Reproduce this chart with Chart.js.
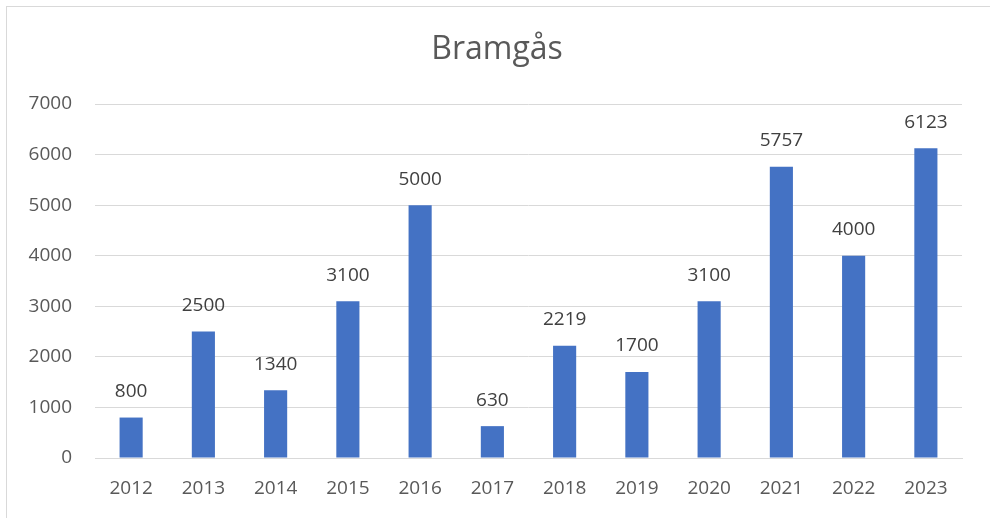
<!DOCTYPE html>
<html>
<head>
<meta charset="utf-8">
<script src="https://cdn.jsdelivr.net/npm/chart.js@4.4.0/dist/chart.umd.min.js"></script>
<style>
  html, body { margin: 0; padding: 0; background: #fff; overflow: hidden; }
  #wrap { position: relative; width: 990px; height: 518px; }
  #frame { position: absolute; left: 6px; top: 6px; width: 1000px; height: 600px; border: 1px solid #d9d9d9; }
  #myChart { position: absolute; left: 0; top: 0; }
</style>
</head>
<body>
<div id="wrap">
  <div id="frame"></div>
  <canvas id="myChart" width="990" height="518"></canvas>
</div>
<script>
var years = ['2012', '2013', '2014', '2015', '2016', '2017', '2018', '2019', '2020', '2021', '2022', '2023'];
var counts = [800, 2500, 1340, 3100, 5000, 630, 2219, 1700, 3100, 5757, 4000, 6123];
var chartTitle = 'Bramgås';

var fontFamily = "'Open Sans', 'Liberation Sans', sans-serif";

// labels above every bar
var valueLabels = {
    id: 'valueLabels',
    afterDatasetsDraw: function (chart) {
        var ctx = chart.ctx;
        var meta = chart.getDatasetMeta(0);
        ctx.save();
        ctx.font = '19px ' + fontFamily;
        ctx.fillStyle = '#404040';
        ctx.textAlign = 'center';
        ctx.textBaseline = 'middle';
        meta.data.forEach(function (bar, i) {
            ctx.fillText(String(counts[i]), bar.x, bar.y - 26);
        });
        ctx.restore();
    }
};

// title drawn by hand so the plot area stays where it should
var titlePlugin = {
    id: 'titlePlugin',
    afterDraw: function (chart) {
        var ctx = chart.ctx;
        ctx.save();
        ctx.font = '32px ' + fontFamily;
        ctx.fillStyle = '#595959';
        ctx.textAlign = 'center';
        ctx.textBaseline = 'middle';
        ctx.fillText(chartTitle, 497, 50);
        ctx.restore();
    }
};

var ctx = document.getElementById('myChart').getContext('2d');
var myChart = new Chart(ctx, {
    type: 'bar',
    data: {
        labels: years,
        datasets: [{
            data: counts,
            backgroundColor: '#4472C4',
            borderWidth: 0,
            categoryPercentage: 1,
            barPercentage: 0.32
        }]
    },
    options: {
        responsive: false,
        animation: false,
        layout: {
            padding: { top: 104, right: 28, bottom: 0, left: 0 }
        },
        plugins: {
            legend: { display: false },
            tooltip: { enabled: false }
        },
        scales: {
            x: {
                grid: { display: false, drawTicks: false },
                border: { display: true, color: '#d9d9d9', width: 1 },
                ticks: {
                    color: '#595959',
                    font: { family: fontFamily, size: 19 },
                    padding: 19,
                    maxRotation: 0
                },
                afterFit: function (scale) { scale.height = 60; }
            },
            y: {
                min: 0,
                max: 7000,
                grid: { color: '#d9d9d9', drawTicks: false },
                border: { display: false },
                ticks: {
                    stepSize: 1000,
                    color: '#595959',
                    font: { family: fontFamily, size: 19 },
                    padding: 23,
                    callback: function (value) { return String(value); }
                },
                afterFit: function (scale) { scale.width = 95; }
            }
        }
    },
    plugins: [valueLabels, titlePlugin]
});
</script>
</body>
</html>
